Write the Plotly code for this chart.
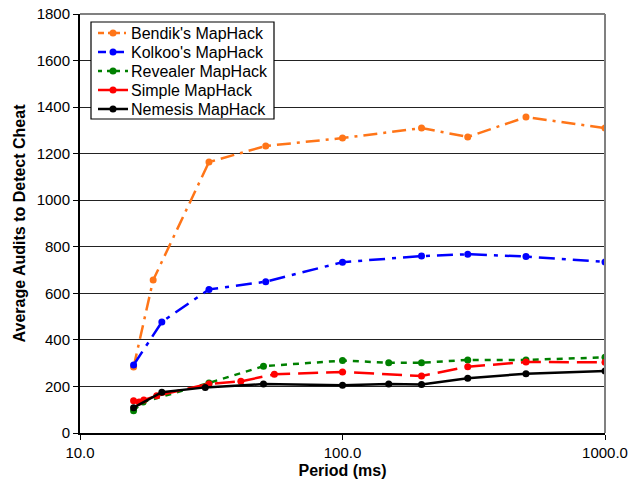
import plotly.graph_objects as go

bendik_x = [16, 19, 31, 51, 100, 200, 300, 500, 1000]
bendik_y = [283, 657, 1164, 1233, 1267, 1310, 1272, 1357, 1310]

kolkoo_x = [16, 20.5, 31, 51, 100, 200, 300, 500, 1000]
kolkoo_y = [292, 477, 617, 650, 734, 760, 768, 758, 735]

revealer_x = [16, 17.4, 31, 50, 100, 150, 200, 300, 500, 1000]
revealer_y = [96, 133, 215, 287, 311, 302, 302, 314, 314, 325]

simple_x = [16, 16.8, 17.5, 19.6, 31, 41, 55, 100, 200, 300, 500, 1000]
simple_y = [139, 133, 142, 160, 211, 222, 252, 262, 245, 285, 305, 304]

nemesis_x = [16, 20.5, 30, 50, 100, 150, 200, 300, 500, 1000]
nemesis_y = [109, 175, 196, 210, 205, 210, 208, 235, 255, 266]

series = [
    ("Bendik's MapHack", bendik_x, bendik_y, "#FF7518", "14px,6px,3px,6px"),
    ("Kolkoo's MapHack", kolkoo_x, kolkoo_y, "#0000FF", "16px,7px,4px,7px"),
    ("Revealer MapHack", revealer_x, revealer_y, "#008000", "6px,6px"),
    ("Simple MapHack", simple_x, simple_y, "#FF0000", "20px,8px"),
    ("Nemesis MapHack", nemesis_x, nemesis_y, "#000000", "solid"),
]

fig = go.Figure()
for name, xs, ys, col, dash in series:
    fig.add_trace(go.Scatter(
        x=xs, y=ys, name=name, mode="lines+markers",
        line=dict(color=col, width=2.5, dash=dash),
        marker=dict(color=col, size=7),
        showlegend=False,
    ))

# plot area in page pixels: x 80..605, y 14..433
X0, X1, Y0, Y1 = 80.0, 605.0, 14.0, 433.0
def px(xa):
    return (xa - X0) / (X1 - X0)
def py(ya):
    return (Y1 - ya) / (Y1 - Y0)

shapes = [
    dict(type="line", xref="paper", yref="paper", x0=0, x1=1, y0=1, y1=1,
         line=dict(color="#808080", width=2)),
    dict(type="line", xref="paper", yref="paper", x0=1, x1=1, y0=0, y1=1,
         line=dict(color="#808080", width=2)),
    # legend box
    dict(type="rect", xref="paper", yref="paper", x0=px(91), x1=px(274),
         y0=py(119), y1=py(22), fillcolor="white", line=dict(color="black", width=1.2)),
]
annotations = []
leg_dash = ["6px,4px,2px,4px", "8px,4px,2px,4px", "4px,5px", "14px,4px", "solid"]
for i, (name, xs, ys, col, dash) in enumerate(series):
    yy = py(33 + 19 * i)
    shapes.append(dict(type="line", xref="paper", yref="paper",
                       x0=px(98), x1=px(128), y0=yy, y1=yy,
                       line=dict(color=col, width=2.5, dash=leg_dash[i])))
    shapes.append(dict(type="circle", xref="paper", yref="paper",
                       xsizemode="pixel", ysizemode="pixel",
                       xanchor=px(113), yanchor=yy,
                       x0=-3.5, x1=3.5, y0=-3.5, y1=3.5,
                       fillcolor=col, line=dict(color=col, width=0)))
    annotations.append(dict(xref="paper", yref="paper", x=px(129), y=yy,
                            text=name, showarrow=False, xanchor="left",
                            yanchor="middle", font=dict(size=16, color="black")))

font = "Liberation Sans, Arial, sans-serif"
fig.update_layout(
    width=629, height=484,
    margin=dict(l=80, r=24, t=14, b=51),
    paper_bgcolor="white", plot_bgcolor="white",
    font=dict(family=font, size=15, color="black"),
    showlegend=False,
    xaxis=dict(
        type="log", range=[1, 3], automargin=False, ticklabeloverflow="allow",
        tickvals=[10, 100, 1000], tickformat=".1f",
        ticks="outside", ticklen=5, tickcolor="black",
        showline=True, linecolor="black", linewidth=2,
        showgrid=False, zeroline=False,
        tickfont=dict(size=15),
        title=dict(text="<b>Period (ms)</b>", standoff=5, font=dict(size=16)),
    ),
    yaxis=dict(
        range=[0, 1800], dtick=200, automargin=False, ticklabeloverflow="allow",
        ticks="outside", ticklen=5, tickcolor="black",
        showline=True, linecolor="black", linewidth=2,
        showgrid=True, gridcolor="#222", gridwidth=1,
        zeroline=False,
        tickfont=dict(size=15),
        title=dict(text="<b>Average Audits to Detect Cheat</b>", standoff=7, font=dict(size=16)),
    ),
    shapes=shapes,
    annotations=annotations,
)

fig.write_html(
    "out.html",
    config={"displayModeBar": False},
    post_script="document.body.style.margin='0';document.body.style.overflow='hidden';",
)
